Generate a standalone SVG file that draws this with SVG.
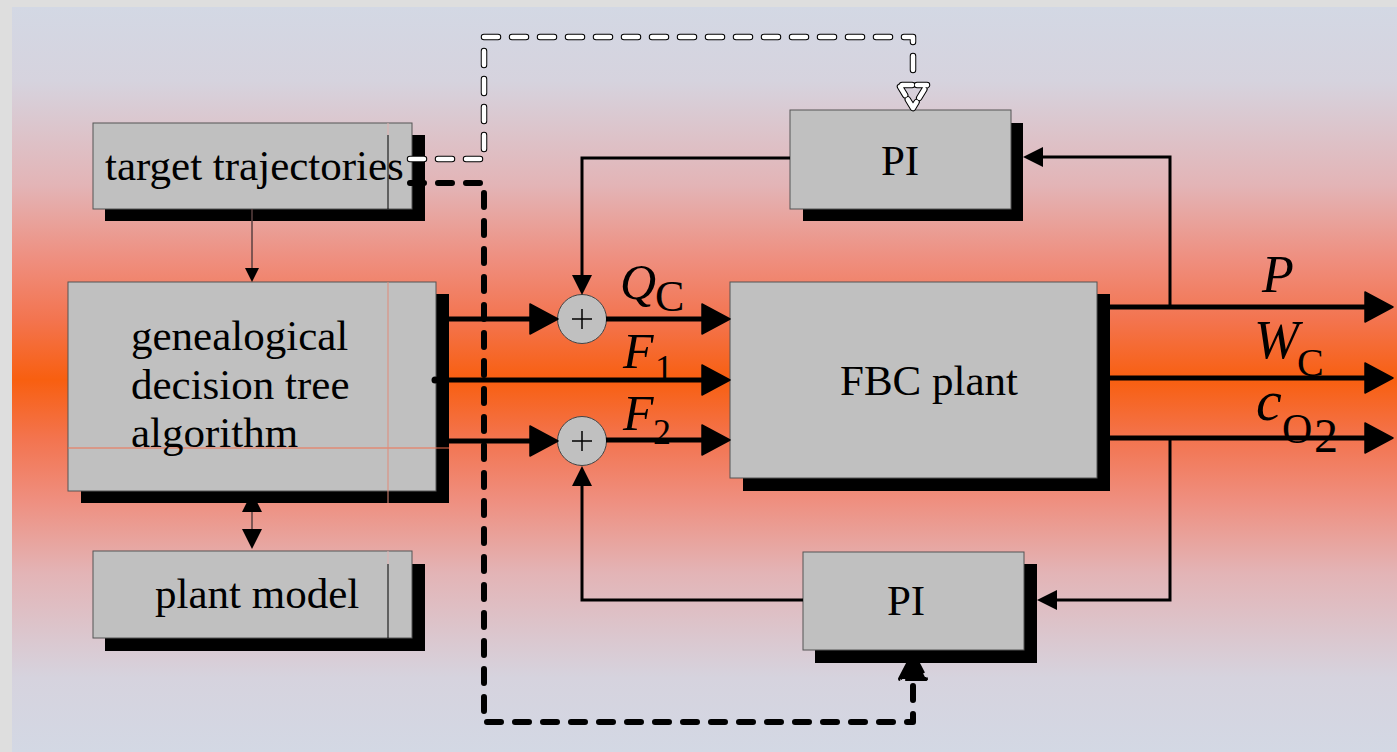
<svg xmlns="http://www.w3.org/2000/svg" width="1397" height="752" viewBox="0 0 1397 752">
<defs>
<linearGradient id="bg" x1="0" y1="7" x2="0" y2="752" gradientUnits="userSpaceOnUse">
<stop offset="0" stop-color="#d3d8e4"/>
<stop offset="0.1" stop-color="#d6d3de"/>
<stop offset="0.24" stop-color="#e3b4b6"/>
<stop offset="0.34" stop-color="#ef8e7e"/>
<stop offset="0.42" stop-color="#f3744f"/>
<stop offset="0.5" stop-color="#f85f10"/>
<stop offset="0.58" stop-color="#f3744f"/>
<stop offset="0.66" stop-color="#ef8e7e"/>
<stop offset="0.76" stop-color="#e3b4b6"/>
<stop offset="0.9" stop-color="#d6d3de"/>
<stop offset="1" stop-color="#d3d8e4"/>
</linearGradient>
<marker id="ah" markerUnits="userSpaceOnUse" markerWidth="30" markerHeight="32" refX="3" refY="15" orient="auto" overflow="visible">
<path d="M0,0 L28,15 L0,30 Z" fill="#000" stroke="#000" stroke-width="1.5" stroke-linejoin="round"/>
</marker>
<marker id="sa" markerUnits="userSpaceOnUse" markerWidth="22" markerHeight="22" refX="2" refY="10" orient="auto" overflow="visible">
<path d="M0,0 L20,10 L0,20 Z" fill="#000"/>
</marker>
<marker id="da" markerUnits="userSpaceOnUse" markerWidth="22" markerHeight="22" refX="2" refY="10" orient="auto-start-reverse" overflow="visible">
<path d="M0,0 L20,10 L0,20 Z" fill="#000"/>
</marker>
<marker id="ta" markerUnits="userSpaceOnUse" markerWidth="16" markerHeight="16" refX="1" refY="7" orient="auto" overflow="visible">
<path d="M0,0 L14,7 L0,14 Z" fill="#000"/>
</marker>
</defs>
<style>
.box{fill:#c0c0c0;stroke:#555;stroke-width:1}
.sh{fill:#000}
.t{font-family:"Liberation Serif","Times New Roman",serif;font-size:43px;fill:#000}
.it{font-family:"Liberation Serif","Times New Roman",serif;font-style:italic;fill:#000}
.sub{font-family:"Liberation Serif","Times New Roman",serif;fill:#000}
.thick{fill:none;stroke:#000;stroke-width:5}
.thin{fill:none;stroke:#000;stroke-width:3}
.hair{fill:none;stroke:#5a4040;stroke-width:1.5}
.bd{fill:none;stroke:#000;stroke-width:6;stroke-dasharray:14 14;stroke-linecap:round;stroke-linejoin:round}
.wo{fill:none;stroke:#000;stroke-width:6.5;stroke-dasharray:14 14;stroke-linecap:round;stroke-linejoin:round}
.wi{fill:none;stroke:#fff;stroke-width:4.5;stroke-dasharray:14 14;stroke-linecap:round;stroke-linejoin:round}
.sum{fill:#c0c0c0;stroke:#444;stroke-width:1}
</style>
<rect x="0" y="0" width="1397" height="752" fill="#dedede"/>
<rect x="12" y="7" width="1385" height="745" fill="url(#bg)"/>

<g id="target">
<rect class="sh" x="105" y="135" width="320" height="86"/>
<rect class="box" x="93" y="123" width="319" height="86"/>
<line x1="388" y1="123" x2="388" y2="135" stroke="#e0b0b0" stroke-width="1"/>
<line x1="388" y1="135" x2="388" y2="209" stroke="#000" stroke-width="1"/>
<text class="t" x="105" y="180" font-size="44">target trajectories</text>
</g>

<g id="gdt">
<rect class="sh" x="81" y="294" width="368" height="209"/>
<rect class="box" x="68" y="282" width="368" height="209"/>
<line x1="68" y1="448" x2="449" y2="448" stroke="#f07050" stroke-width="1"/>
<line x1="388" y1="282" x2="388" y2="503" stroke="#e08a78" stroke-width="1"/>
<text class="t" x="131" y="350">genealogical</text>
<text class="t" x="131" y="399">decision tree</text>
<text class="t" x="131" y="447">algorithm</text>
</g>

<g id="plantmodel">
<rect class="sh" x="105" y="564" width="320" height="87"/>
<rect class="box" x="93" y="551" width="319" height="87"/>
<line x1="388" y1="551" x2="388" y2="564" stroke="#e0b0b0" stroke-width="1"/>
<line x1="388" y1="564" x2="388" y2="638" stroke="#000" stroke-width="1"/>
<text class="t" x="155" y="608">plant model</text>
</g>

<g id="pi-top">
<rect class="sh" x="803" y="123" width="220" height="98"/>
<rect class="box" x="790" y="110" width="221" height="99"/>
<text class="t" x="900" y="175" text-anchor="middle" font-size="44">PI</text>
</g>

<g id="pi-bottom">
<rect class="sh" x="815" y="564" width="222" height="99"/>
<rect class="box" x="803" y="552" width="221" height="98"/>
<text class="t" x="906" y="615" text-anchor="middle" font-size="44">PI</text>
</g>

<g id="fbc">
<rect class="sh" x="743" y="294" width="367" height="197"/>
<rect class="box" x="730" y="282" width="367" height="196"/>
<text class="t" x="929" y="395" text-anchor="middle">FBC plant</text>
</g>

<g id="sum1">
<circle class="sum" cx="582" cy="319" r="24.5"/>
<path d="M572,319 H592 M582,309 V329" stroke="#000" stroke-width="1.5"/>
</g>
<g id="sum2">
<circle class="sum" cx="582" cy="441" r="24.5"/>
<path d="M572,441 H592 M582,431 V451" stroke="#000" stroke-width="1.5"/>
</g>

<g id="connectors">
<path class="hair" d="M252,209 V269" marker-end="url(#ta)"/>
<path class="hair" d="M252,510 V531" marker-start="url(#da)" marker-end="url(#da)"/>

<path class="thick" d="M449,319 H533" marker-end="url(#ah)"/>
<path class="thick" d="M449,441 H533" marker-end="url(#ah)"/>
<path class="thick" d="M606,319 H705" marker-end="url(#ah)"/>
<path class="thick" d="M433,380 H705" marker-end="url(#ah)"/>
<circle cx="435" cy="380" r="3.5" fill="#000"/>
<path class="thick" d="M606,440 H705" marker-end="url(#ah)"/>

<path class="thick" d="M1110,307 H1368" marker-end="url(#ah)"/>
<path class="thick" d="M1110,378 H1368" marker-end="url(#ah)"/>
<path class="thick" d="M1110,438 H1368" marker-end="url(#ah)"/>

<path class="thin" d="M1170,307 V157 H1041" marker-end="url(#sa)"/>
<path class="thin" d="M1170,438 V600 H1055" marker-end="url(#sa)"/>
<path class="thin" d="M790,158 H582 V277" marker-end="url(#sa)"/>
<path class="thin" d="M803,600 H582 V484" marker-end="url(#sa)"/>

<path class="wo" d="M410,159 H484 V37 H913 V76"/>
<path class="wi" d="M410,159 H484 V37 H913 V76"/>
<path class="wo" d="M913,108 L899,85 L927,85 Z" style="stroke-dasharray:10 5"/>
<path class="wi" d="M913,108 L899,85 L927,85 Z" style="stroke-dasharray:10 5"/>

<path class="bd" d="M410,183 H484 V722 H913 V684"/>
<path d="M913,654 L926,679 L900,679 Z" fill="#000" stroke="#000" stroke-width="4" stroke-linejoin="round" stroke-dasharray="22 5"/>
</g>

<g id="labels">
<text class="it" x="620" y="299" font-size="50">Q</text>
<text class="sub" x="655" y="311" font-size="44">C</text>
<text class="it" x="623" y="368" font-size="50">F</text>
<text class="sub" x="655" y="380" font-size="36">1</text>
<text class="it" x="623" y="430" font-size="50">F</text>
<text class="sub" x="653" y="444" font-size="36">2</text>
<text class="it" x="1262" y="292" font-size="52">P</text>
<text class="it" x="1254" y="358" font-size="54">W</text>
<text class="sub" x="1297" y="376" font-size="40">C</text>
<text class="it" x="1256" y="420" font-size="58">c</text>
<text class="sub" x="1282" y="443" font-size="42">O</text>
<text class="sub" x="1314" y="452" font-size="48">2</text>
</g>
</svg>
